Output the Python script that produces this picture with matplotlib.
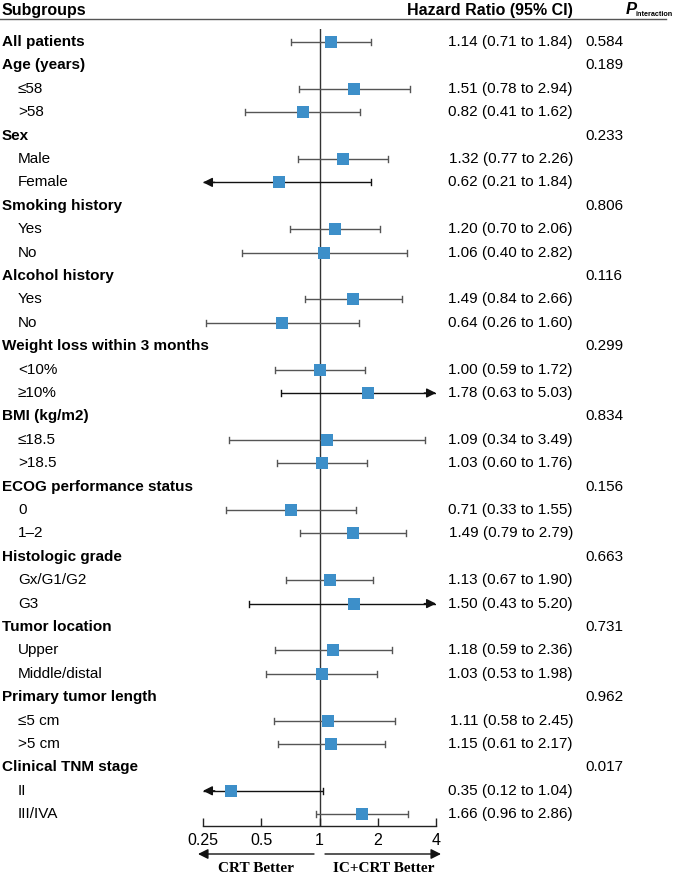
import matplotlib
matplotlib.use("Agg")
import matplotlib.pyplot as plt
import matplotlib.transforms as mtrans
import numpy as np

plt.rcParams['font.family'] = ['Liberation Sans', 'DejaVu Sans']

# ---------------- data ----------------
labels = ["All patients", "Age (years)", "≤58", ">58", "Sex", "Male", "Female",
          "Smoking history", "Yes", "No", "Alcohol history", "Yes", "No",
          "Weight loss within 3 months", "<10%", "≥10%", "BMI (kg/m2)", "≤18.5", ">18.5",
          "ECOG performance status", "0", "1–2", "Histologic grade", "Gx/G1/G2", "G3",
          "Tumor location", "Upper", "Middle/distal", "Primary tumor length", "≤5 cm", ">5 cm",
          "Clinical TNM stage", "II", "III/IVA"]
is_header = [True, True, False, False, True, False, False,
             True, False, False, True, False, False,
             True, False, False, True, False, False,
             True, False, False, True, False, False,
             True, False, False, True, False, False,
             True, False, False]
hr = [1.14, None, 1.51, 0.82, None, 1.32, 0.62,
      None, 1.20, 1.06, None, 1.49, 0.64,
      None, 1.00, 1.78, None, 1.09, 1.03,
      None, 0.71, 1.49, None, 1.13, 1.50,
      None, 1.18, 1.03, None, 1.11, 1.15,
      None, 0.35, 1.66]
ci_lo = [0.71, None, 0.78, 0.41, None, 0.77, 0.21,
         None, 0.70, 0.40, None, 0.84, 0.26,
         None, 0.59, 0.63, None, 0.34, 0.60,
         None, 0.33, 0.79, None, 0.67, 0.43,
         None, 0.59, 0.53, None, 0.58, 0.61,
         None, 0.12, 0.96]
ci_hi = [1.84, None, 2.94, 1.62, None, 2.26, 1.84,
         None, 2.06, 2.82, None, 2.66, 1.60,
         None, 1.72, 5.03, None, 3.49, 1.76,
         None, 1.55, 2.79, None, 1.90, 5.20,
         None, 2.36, 1.98, None, 2.45, 2.17,
         None, 1.04, 2.86]
p_int = ["0.584", "0.189", "", "", "0.233", "", "",
         "0.806", "", "", "0.116", "", "",
         "0.299", "", "", "0.834", "", "",
         "0.156", "", "", "0.663", "", "",
         "0.731", "", "", "0.962", "", "",
         "0.017", "", ""]
xticks = [0.25, 0.5, 1, 2, 4]
xticklabels = ["0.25", "0.5", "1", "2", "4"]

# ---------------- layout ----------------
W, H = 674, 877
fig = plt.figure(figsize=(W / 100, H / 100), dpi=100)

def fx(px):
    return px / W

def fy(py):
    return 1 - py / H

row0, row_step = 42.0, 23.4
ax_left, ax_right = 203, 436
ax_top, ax_bot = 29, 826
ax = fig.add_axes([fx(ax_left), fy(ax_bot), fx(ax_right - ax_left), (ax_bot - ax_top) / H])
ax.set_xscale('log', base=2)
xmin, xmax = 0.25, 4
ax.set_xlim(xmin, xmax)
ax.set_ylim((ax_bot - row0) / row_step, (ax_top - row0) / row_step)
for s in ['top', 'right', 'left']:
    ax.spines[s].set_visible(False)
ax.spines['bottom'].set_linewidth(1.0)
ax.spines['bottom'].set_color('#222222')
ax.set_yticks([])
ax.set_xticks(xticks)
ax.set_xticklabels(xticklabels, fontsize=11.5)
ax.xaxis.set_minor_locator(matplotlib.ticker.NullLocator())
ax.tick_params(axis='x', direction='in', length=6, width=1.0, color='#222222', pad=5)
ax.axvline(1, color='#333333', lw=1.0, zorder=1)

blue = '#3D8FC9'
line_col = '#555555'
for i, (h, lo, hi) in enumerate(zip(hr, ci_lo, ci_hi)):
    if h is None:
        continue
    left_arrow = lo < xmin
    right_arrow = hi > xmax
    a = max(lo, xmin)
    b = min(hi, xmax)
    col = '#111111' if (left_arrow or right_arrow) else line_col
    ax.plot([a, b], [i, i], color=col, lw=1.0, zorder=2, solid_capstyle='butt')
    cap = 0.13
    if not left_arrow:
        ax.plot([lo, lo], [i - cap, i + cap], color=col, lw=1.0, zorder=2)
    else:
        ax.annotate('', xy=(xmin, i), xytext=(xmin * 1.15, i),
                    arrowprops=dict(arrowstyle='-|>', color='#111111', lw=1.0,
                                    mutation_scale=14, shrinkA=0, shrinkB=0),
                    annotation_clip=False)
    if not right_arrow:
        ax.plot([hi, hi], [i - cap, i + cap], color=col, lw=1.0, zorder=2)
    else:
        ax.annotate('', xy=(xmax, i), xytext=(xmax / 1.15, i),
                    arrowprops=dict(arrowstyle='-|>', color='#111111', lw=1.0,
                                    mutation_scale=14, shrinkA=0, shrinkB=0),
                    annotation_clip=False)
    ax.plot([h], [i], marker='s', markersize=8, color=blue, zorder=3, markeredgewidth=0)

# ---------------- text columns ----------------
tr = mtrans.blended_transform_factory(fig.transFigure, ax.transData)
fs = 11
for i, lab in enumerate(labels):
    if is_header[i]:
        fig.text(fx(2), i, lab, transform=tr, fontsize=fs, fontweight='bold', va='center', ha='left')
    else:
        fig.text(fx(18), i, lab, transform=tr, fontsize=fs, va='center', ha='left')
    if hr[i] is not None:
        s = f"{hr[i]:.2f} ({ci_lo[i]:.2f} to {ci_hi[i]:.2f})"
        fig.text(fx(573), i, s, transform=tr, fontsize=fs, va='center', ha='right')
    if p_int[i]:
        fig.text(fx(585), i, p_int[i], transform=tr, fontsize=fs, va='center', ha='left')

# headers
fig.text(fx(2), fy(10), "Subgroups", fontsize=11.5, fontweight='bold', va='center', ha='left')
fig.text(fx(573), fy(10), "Hazard Ratio (95% CI)", fontsize=11.5, fontweight='bold', va='center', ha='right')
fig.text(fx(626), fy(10), "P", fontsize=12, fontweight='bold', fontstyle='italic', va='center', ha='left')
fig.text(fx(635.5), fy(14), "interaction", fontsize=5.2, fontweight='bold', va='center', ha='left')
fig.add_artist(plt.Line2D([0, fx(666)], [fy(19), fy(19)], color='#555555', lw=1.0, transform=fig.transFigure))

# bottom arrows and labels
fig.add_artist(matplotlib.patches.FancyArrowPatch((fx(314), fy(854)), (fx(198), fy(854)),
               transform=fig.transFigure, arrowstyle='-|>', mutation_scale=15, color='#111111', lw=1.0,
               shrinkA=0, shrinkB=0))
fig.add_artist(matplotlib.patches.FancyArrowPatch((fx(325), fy(854)), (fx(441), fy(854)),
               transform=fig.transFigure, arrowstyle='-|>', mutation_scale=15, color='#111111', lw=1.0,
               shrinkA=0, shrinkB=0))
fig.text(fx(256), fy(868), "CRT Better", fontsize=11, fontweight='bold', family='Liberation Serif',
         ha='center', va='center')
fig.text(fx(384), fy(868), "IC+CRT Better", fontsize=11, fontweight='bold', family='Liberation Serif',
         ha='center', va='center')

fig.savefig("out.png", dpi=100)
